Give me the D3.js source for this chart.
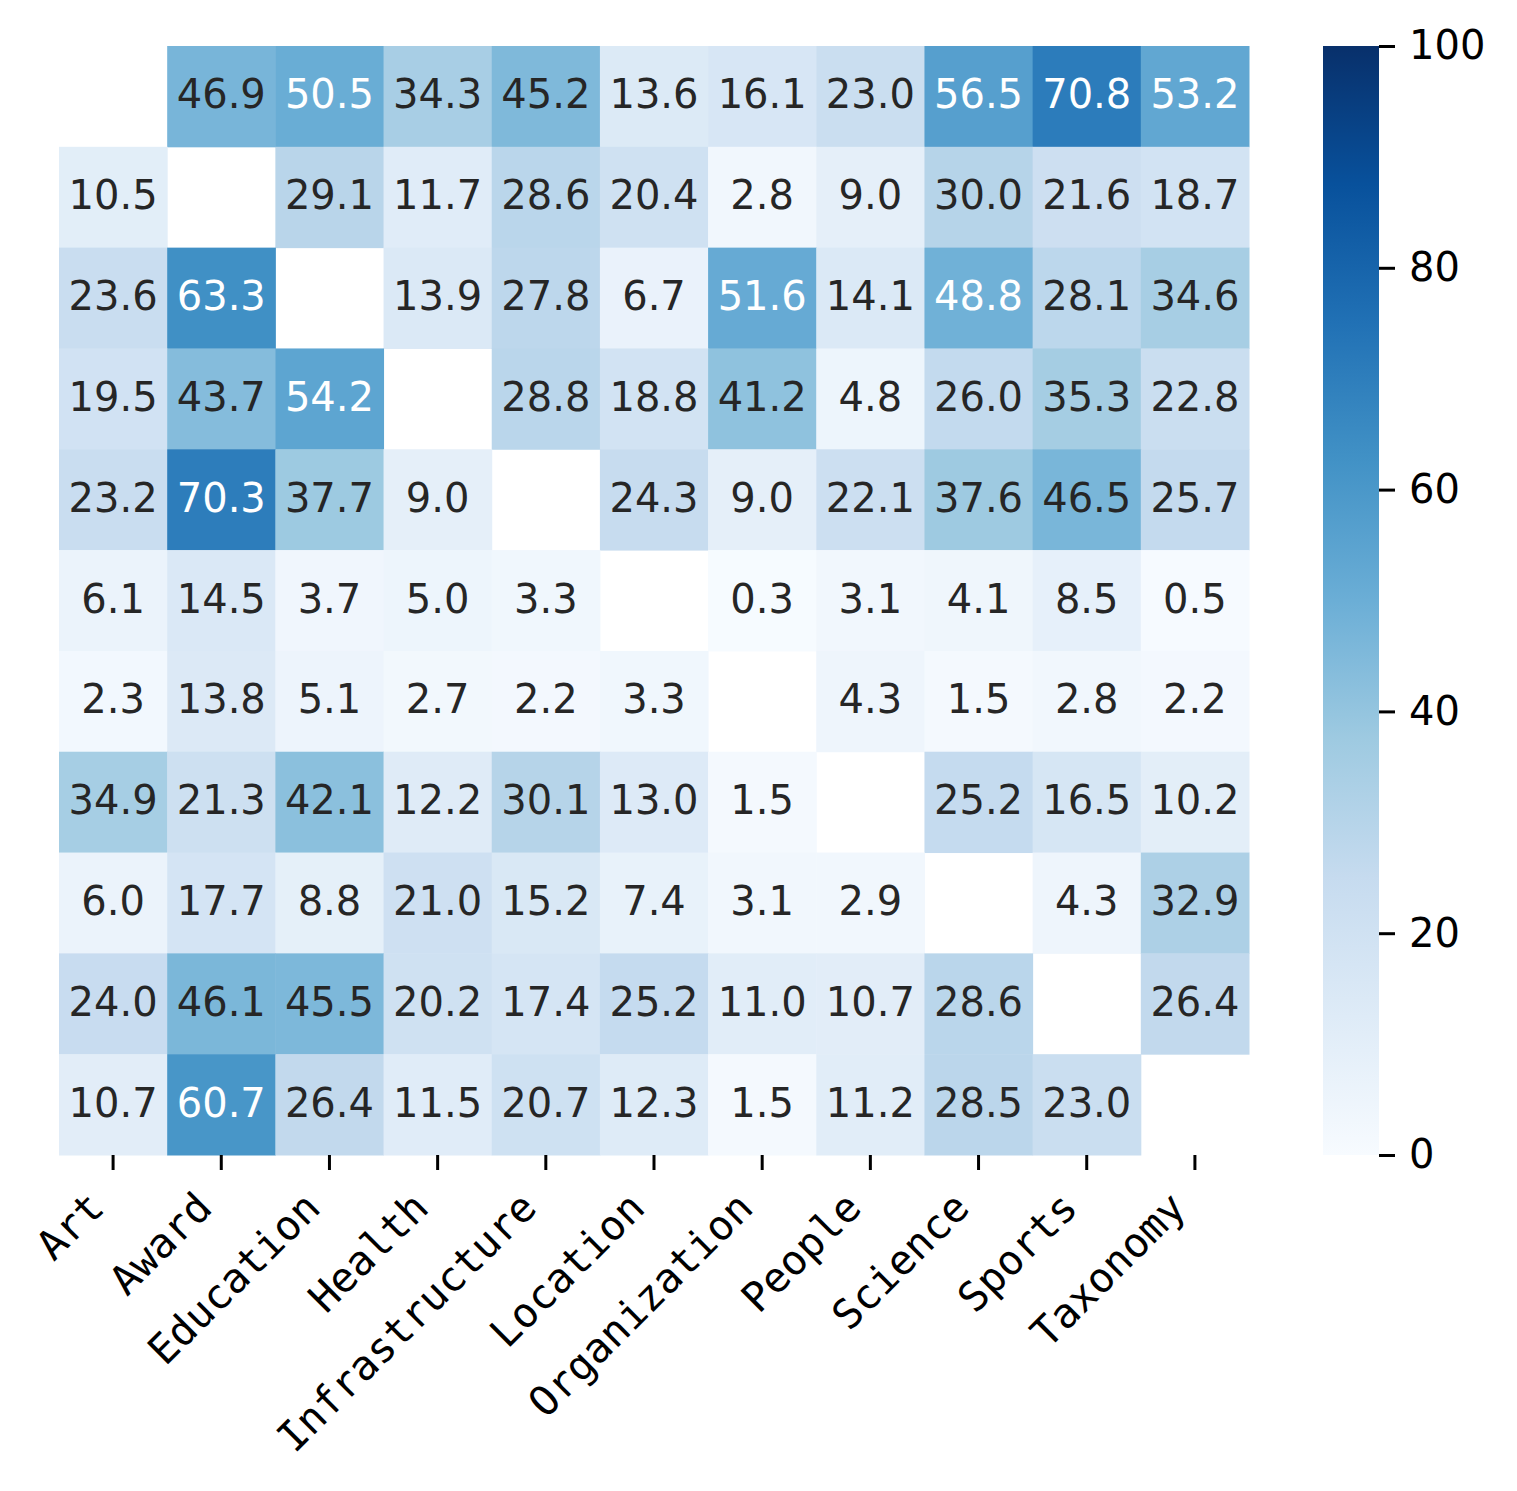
<!DOCTYPE html>
<html>
<head>
<meta charset="utf-8">
<script src="https://cdn.jsdelivr.net/npm/d3@7"></script>
<style>
  body { margin: 0; background: #fff; }
</style>
</head>
<body>
<script>
// categories (same for rows and columns)
var categories = ['Art', 'Award', 'Education', 'Health', 'Infrastructure', 'Location',
  'Organization', 'People', 'Science', 'Sports', 'Taxonomy']

// one array per row, diagonal masked with null
var rowArt = [null, 46.9, 50.5, 34.3, 45.2, 13.6, 16.1, 23.0, 56.5, 70.8, 53.2]
var rowAward = [10.5, null, 29.1, 11.7, 28.6, 20.4, 2.8, 9.0, 30.0, 21.6, 18.7]
var rowEducation = [23.6, 63.3, null, 13.9, 27.8, 6.7, 51.6, 14.1, 48.8, 28.1, 34.6]
var rowHealth = [19.5, 43.7, 54.2, null, 28.8, 18.8, 41.2, 4.8, 26.0, 35.3, 22.8]
var rowInfrastructure = [23.2, 70.3, 37.7, 9.0, null, 24.3, 9.0, 22.1, 37.6, 46.5, 25.7]
var rowLocation = [6.1, 14.5, 3.7, 5.0, 3.3, null, 0.3, 3.1, 4.1, 8.5, 0.5]
var rowOrganization = [2.3, 13.8, 5.1, 2.7, 2.2, 3.3, null, 4.3, 1.5, 2.8, 2.2]
var rowPeople = [34.9, 21.3, 42.1, 12.2, 30.1, 13.0, 1.5, null, 25.2, 16.5, 10.2]
var rowScience = [6.0, 17.7, 8.8, 21.0, 15.2, 7.4, 3.1, 2.9, null, 4.3, 32.9]
var rowSports = [24.0, 46.1, 45.5, 20.2, 17.4, 25.2, 11.0, 10.7, 28.6, null, 26.4]
var rowTaxonomy = [10.7, 60.7, 26.4, 11.5, 20.7, 12.3, 1.5, 11.2, 28.5, 23.0, null]

var rows = [rowArt, rowAward, rowEducation, rowHealth, rowInfrastructure, rowLocation,
  rowOrganization, rowPeople, rowScience, rowSports, rowTaxonomy]

var colorbarTicks = [0, 20, 40, 60, 80, 100]

// matplotlib "Blues" anchor colours
var bluesColors = ['#f7fbff', '#deebf7', '#c6dbef', '#9ecae1', '#6baed6',
  '#4292c6', '#2171b5', '#08519c', '#08306b']

var width = 1517
var height = 1491
var plot = { left: 59, right: 1249, top: 46, bottom: 1155 }
var cbar = { left: 1323, right: 1379 }

var svg = d3.select('body').append('svg')
  .attr('width', width)
  .attr('height', height)

var x = d3.scaleBand().domain(categories).range([plot.left, plot.right])
var y = d3.scaleBand().domain(categories).range([plot.top, plot.bottom])

var color = d3.scaleLinear()
  .domain(bluesColors.map(function (c, i) { return i * 100 / (bluesColors.length - 1) }))
  .range(bluesColors)
  .clamp(true)

// seaborn picks annotation colour from relative luminance
function luminance (c) {
  var rgb = d3.rgb(c)
  var ch = [rgb.r, rgb.g, rgb.b].map(function (v) {
    v = v / 255
    return v <= 0.03928 ? v / 12.92 : Math.pow((v + 0.055) / 1.055, 2.4)
  })
  return 0.2126 * ch[0] + 0.7152 * ch[1] + 0.0722 * ch[2]
}

var cells = []
rows.forEach(function (r, i) {
  r.forEach(function (v, j) {
    cells.push({ row: categories[i], col: categories[j], value: v })
  })
})

var filled = cells.filter(function (d) { return d.value !== null })

svg.append('g').selectAll('rect')
  .data(filled)
  .enter().append('rect')
  .attr('x', function (d) { return x(d.col) })
  .attr('y', function (d) { return y(d.row) })
  .attr('width', x.bandwidth() + 0.5)
  .attr('height', y.bandwidth() + 0.5)
  .attr('fill', function (d) { return color(d.value) })

svg.append('g').selectAll('text')
  .data(filled)
  .enter().append('text')
  .attr('x', function (d) { return x(d.col) + x.bandwidth() / 2 })
  .attr('y', function (d) { return y(d.row) + y.bandwidth() / 2 })
  .attr('dy', '0.3em')
  .attr('text-anchor', 'middle')
  .style('font-family', 'DejaVu Sans')
  .style('font-size', '40px')
  .style('fill', function (d) { return luminance(color(d.value)) > 0.408 ? '#262626' : '#ffffff' })
  .text(function (d) { return d.value.toFixed(1) })

// x axis
var xAxis = svg.append('g')
  .attr('transform', 'translate(0,' + plot.bottom + ')')
  .call(d3.axisBottom(x).tickSize(15).tickPadding(0))

xAxis.select('.domain').remove()
xAxis.selectAll('.tick line')
  .attr('stroke', '#000')
  .attr('stroke-width', 3)
xAxis.selectAll('.tick text')
  .attr('x', -7)
  .attr('y', 55)
  .attr('dy', 0)
  .attr('text-anchor', 'end')
  .attr('transform', 'rotate(-45,-7,55)')
  .style('font-family', 'DejaVu Sans Mono')
  .style('font-size', '41px')
  .style('fill', '#000')

// colorbar
var defs = svg.append('defs')
var grad = defs.append('linearGradient')
  .attr('id', 'cbar-grad')
  .attr('x1', 0).attr('y1', 1).attr('x2', 0).attr('y2', 0)
grad.selectAll('stop')
  .data(color.domain())
  .enter().append('stop')
  .attr('offset', function (d) { return d / 100 })
  .attr('stop-color', function (d) { return color(d) })

var cy = d3.scaleLinear().domain([0, 100]).range([plot.bottom, plot.top])

svg.append('rect')
  .attr('x', cbar.left)
  .attr('y', cy(100))
  .attr('width', cbar.right - cbar.left)
  .attr('height', cy(0) - cy(100))
  .attr('fill', 'url(#cbar-grad)')

var cAxis = svg.append('g')
  .attr('transform', 'translate(' + cbar.right + ',0)')
  .call(d3.axisRight(cy).tickValues(colorbarTicks).tickSize(16).tickPadding(14))

cAxis.select('.domain').remove()
cAxis.selectAll('.tick line')
  .attr('stroke', '#000')
  .attr('stroke-width', 3)
cAxis.selectAll('.tick text')
  .style('font-family', 'DejaVu Sans')
  .style('font-size', '40px')
  .style('fill', '#000')
</script>
</body>
</html>
